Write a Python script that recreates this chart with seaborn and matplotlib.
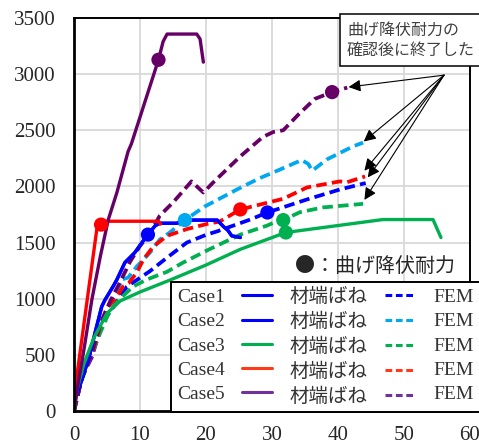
import matplotlib
matplotlib.use("Agg")
import matplotlib.pyplot as plt
from matplotlib.lines import Line2D
import seaborn as sns

# ---- load-displacement curves ----
# Case1 (end-spring model / FEM)
c1_spring_x = [0, 0.15, 1.2, 2.3, 3.2, 4.2, 4.7, 5.9, 6.5, 7.7, 9.2, 10.3, 11.2, 12.3, 13.0, 15.6, 16.5, 21.7, 22.6, 23.3, 23.9, 25.2]
c1_spring_y = [0, 100, 280, 480, 700, 930, 990, 1107, 1170, 1321, 1410, 1500, 1571, 1650, 1672, 1672, 1700, 1700, 1645, 1610, 1560, 1545]
c1_fem_x = [0, 1.2, 2.7, 3.8, 4.7, 5.9, 8.0, 11.5, 14.1, 17.1, 20.1, 21.7, 26.7, 29.3, 35.3, 40.3, 44.2]
c1_fem_y = [0, 300, 480, 690, 820, 920, 1107, 1245, 1366, 1500, 1571, 1600, 1705, 1768, 1884, 1973, 2030]

# Case2
c2_spring_x = list(c1_spring_x)
c2_spring_y = list(c1_spring_y)
c2_fem_x = [0, 1.2, 2.7, 4.0, 5.5, 6.5, 7.2, 8.2, 9.5, 11.5, 13.0, 14.5, 16.8, 19.8, 24.7, 28.0, 31.2, 34.5, 35.5, 36.1, 38.3, 42.3, 43.8]
c2_fem_y = [0, 300, 520, 760, 960, 1054, 1170, 1188, 1286, 1410, 1527, 1589, 1700, 1821, 1973, 2070, 2150, 2235, 2200, 2140, 2240, 2357, 2390]

# Case3
c3_spring_x = [0, 0.5, 1.5, 3.0, 5.0, 7.0, 10.0, 14.5, 20.0, 25.2, 32.1, 46.8, 54.4, 55.6]
c3_spring_y = [0, 200, 420, 650, 870, 980, 1060, 1165, 1300, 1440, 1590, 1705, 1705, 1545]
c3_fem_x = [0, 1.0, 2.5, 4.0, 5.5, 7.0, 8.9, 11.0, 14.1, 16.5, 20.5, 25.2, 29.2, 30.8, 31.7, 34.2, 37.7, 43.8]
c3_fem_y = [0, 250, 480, 700, 902, 1000, 1107, 1170, 1240, 1321, 1440, 1571, 1650, 1690, 1700, 1770, 1813, 1845]

# Case4
c4_spring_x = [0, 0.15, 2.0, 3.45, 4.1, 4.5, 12.8, 13.1]
c4_spring_y = [0, 190, 990, 1616, 1660, 1690, 1690, 1665]
c4_fem_x = [0, 1.2, 2.7, 4.0, 5.0, 6.5, 7.4, 8.3, 9.5, 10.5, 12.0, 14.1, 17.1, 20.1, 22.1, 25.2, 31.7, 35.3, 40.3, 41.3, 44.1]
c4_fem_y = [0, 300, 500, 760, 920, 1018, 1107, 1140, 1232, 1348, 1464, 1560, 1620, 1665, 1688, 1795, 1890, 1991, 2045, 2036, 2089]

# Case5
c5_spring_x = [0, 0.5, 1.5, 2.7, 4.0, 5.2, 6.5, 8.2, 8.7, 12.0, 12.8, 13.5, 14.1, 18.6, 19.1, 19.6]
c5_spring_y = [0, 200, 545, 990, 1380, 1705, 1946, 2312, 2380, 2982, 3128, 3290, 3357, 3357, 3313, 3107]
c5_fem_x = [0, 1.2, 2.7, 4.0, 5.5, 7.0, 8.5, 10.0, 11.5, 13.0, 15.0, 17.8, 19.1, 19.6, 21.1, 25.2, 28.6, 30.2, 31.7, 34.0, 36.5, 39.1, 41.4]
c5_fem_y = [0, 300, 520, 780, 980, 1150, 1330, 1470, 1580, 1740, 1857, 2045, 1973, 1946, 2036, 2268, 2440, 2485, 2500, 2640, 2780, 2840, 2880]

# flexural yield strength points
yield_x = [11.2, 29.3, 16.8, 32.1, 31.7, 4.1, 25.2, 12.8, 39.1]
yield_y = [1571, 1768, 1700, 1590, 1700, 1660, 1795, 3128, 2840]
yield_colors = ["#0000FF", "#0000FF", "#00A8F0", "#00B050", "#00B050", "#FF0000", "#FF0000", "#660066", "#660066"]

case_labels = ["Case1", "Case2", "Case3", "Case4", "Case5"]
spring_label = "材端ばね"
fem_label = "FEM"
marker_note = "●：曲げ降伏耐力"
end_note = "曲げ降伏耐力の\n確認後に終了した"

x_ticks = [0, 10, 20, 30, 40, 50, 60]
y_ticks = [0, 500, 1000, 1500, 2000, 2500, 3000, 3500]

# ---- style ----
sns.set_theme(style="whitegrid")
plt.rcParams["font.family"] = ["Liberation Serif", "Noto Sans CJK JP"]

plot_colors = ["#0000FF", "#0000FF", "#00B050", "#FF0000", "#660066"]
fem_colors = ["#0000FF", "#00A8F0", "#00B050", "#FF0000", "#660066"]
legend_solid = ["#0000FF", "#0000FF", "#00B050", "#FF3A1A", "#7030A0"]
legend_dash = ["#0000FF", "#00A8F0", "#00B050", "#FF3A1A", "#7030A0"]
dash_pat = (2.8, 1.4)

fig = plt.figure(figsize=(4.79, 4.46), dpi=100)
fig.patch.set_facecolor("white")
ax = fig.add_axes([74 / 479, 35 / 446, 396 / 479, 393 / 446])

springs = [(c1_spring_x, c1_spring_y), (c2_spring_x, c2_spring_y), (c3_spring_x, c3_spring_y),
           (c4_spring_x, c4_spring_y), (c5_spring_x, c5_spring_y)]
fems = [(c1_fem_x, c1_fem_y), (c2_fem_x, c2_fem_y), (c3_fem_x, c3_fem_y),
        (c4_fem_x, c4_fem_y), (c5_fem_x, c5_fem_y)]

# FEM curves (dashed) underneath
for (xs, ys), col in zip(fems, fem_colors):
    sns.lineplot(x=xs, y=ys, sort=False, estimator=None, color=col, lw=2.7, ax=ax, legend=False)
    line = ax.lines[-1]
    line.set_dashes(dash_pat)
    line.set_dash_capstyle("butt")

# end-spring curves (solid) on top
for (xs, ys), col in zip(springs, plot_colors):
    sns.lineplot(x=xs, y=ys, sort=False, estimator=None, color=col, lw=2.4, ax=ax, legend=False)
    ax.lines[-1].set_solid_joinstyle("round")

sns.scatterplot(x=yield_x, y=yield_y, hue=list(range(len(yield_x))), palette=yield_colors,
                s=105, edgecolor="none", ax=ax, legend=False, zorder=4)

ax.set_xlim(0, 60)
ax.set_ylim(0, 3500)
ax.set_xticks(x_ticks)
ax.set_yticks(y_ticks)
ax.grid(True, color="#D9D9D9", lw=1.3)
ax.tick_params(axis="both", length=0, labelsize=15, colors="#262626")
ax.tick_params(axis="y", pad=13)
ax.tick_params(axis="x", pad=11)
for side in ["left", "bottom"]:
    ax.spines[side].set_color("black")
    ax.spines[side].set_linewidth(2.0)
for side in ["top", "right"]:
    ax.spines[side].set_color("black")
    ax.spines[side].set_linewidth(1.4)

# legend: label | solid handle | label | dashed handle | label
h_solid = [Line2D([], [], color=c, lw=2.2) for c in legend_solid]
h_dash = [Line2D([], [], color=c, lw=2.2, dashes=(2.2, 1.2)) for c in legend_dash]
h_none = [Line2D([], [], color="none") for _ in case_labels]
handles = h_solid + h_dash + h_none
labels = case_labels + [spring_label] * 5 + [fem_label] * 5
leg = ax.legend(handles, labels, ncol=3, markerfirst=False, loc="upper left",
                bbox_to_anchor=(171 / 479, 1 - 282 / 446), bbox_transform=fig.transFigure,
                borderaxespad=0, fontsize=14, handlelength=1.55, handletextpad=0.9,
                columnspacing=0.9, labelspacing=0.34, borderpad=0.3,
                frameon=True, fancybox=False, framealpha=1, edgecolor="black")
leg.get_frame().set_linewidth(1.4)
for t in leg.get_texts():
    t.set_color("#333333")

ax.text(295 / 479, 1 - 266 / 446, marker_note, transform=fig.transFigure,
        ha="left", va="center", fontsize=14.4, color="#262626",
        family=["Noto Sans CJK JP", "DejaVu Sans"], zorder=6)

# arrows to the end points of the FEM curves
origin = (56.06, 2991)
tips = [(41.6, 2885), (43.9, 2400), (44.0, 2140), (44.5, 2080), (44.0, 1880)]
for tip in tips:
    ax.annotate("", xy=tip, xytext=origin, xycoords="data", textcoords="data",
                arrowprops=dict(arrowstyle="-|>", color="black", lw=0.8,
                                mutation_scale=18, shrinkA=0, shrinkB=0),
                zorder=6)

ax.text(347 / 479, 1 - 40 / 446, end_note, transform=fig.transFigure,
        ha="left", va="center", fontsize=11.5, color="#404040", linespacing=1.25,
        family=["Noto Sans CJK JP", "DejaVu Sans"], zorder=7,
        bbox=dict(boxstyle="square,pad=0.45", facecolor="white", edgecolor="black", lw=1.1))

fig.savefig("out.png", dpi=100, facecolor="white")
